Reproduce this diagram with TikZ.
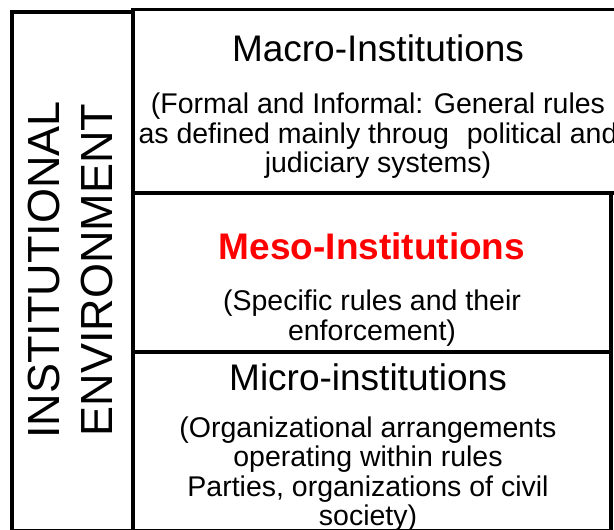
\documentclass[tikz,border=0pt]{standalone}
\usepackage{fontspec}
\setmainfont{Liberation Sans}
\usepackage{tikz}
\definecolor{mesored}{RGB}{255,0,0}
\tikzstyle{frame}=[draw=black,line width=3.5pt]
\tikzstyle{head}=[inner sep=0,align=center,font=\fontsize{37}{44}\selectfont]
\tikzstyle{body}=[inner sep=0,align=center,font=\fontsize{28.5}{29.5}\selectfont]
\tikzstyle{side}=[inner sep=0,align=center,rotate=90,font=\fontsize{45}{53}\selectfont]

\begin{document}
\begin{tikzpicture}[x=1pt,y=-1pt]
	\useasboundingbox (0,0) rectangle (614,530);
	\clip (0,0) rectangle (614,530);

	% layers
	\draw[frame] (12,12) rectangle (133,531);
	\draw[frame] (133,9.5) rectangle (625,193);
	\draw[frame] (133,193) rectangle (611,352);
	\draw[frame] (133,352) rectangle (611,531);

	\node[side] (env) at (71,270) {INSTITUTIONAL\\ENVIRONMENT};

	\node[head] (macro) at (378,48) {Macro-Institutions};
	\node[body] (macrotxt) at (378,136) {(Formal and Informal: General rules\\as defined mainly throug\hspace{10pt} political and\\judiciary systems)};

	\node[head,font=\fontsize{37}{44}\selectfont\bfseries,text=mesored] (meso) at (372,246) {Meso-Institutions};
	\node[body] (mesotxt) at (372,318) {(Specific rules and their\\enforcement)};

	\node[head] (micro) at (368,377) {Micro-institutions};
	\node[body] (microtxt) at (368,474) {(Organizational arrangements\\operating within rules\\Parties, organizations of civil\\society)};

\end{tikzpicture}
\end{document}
